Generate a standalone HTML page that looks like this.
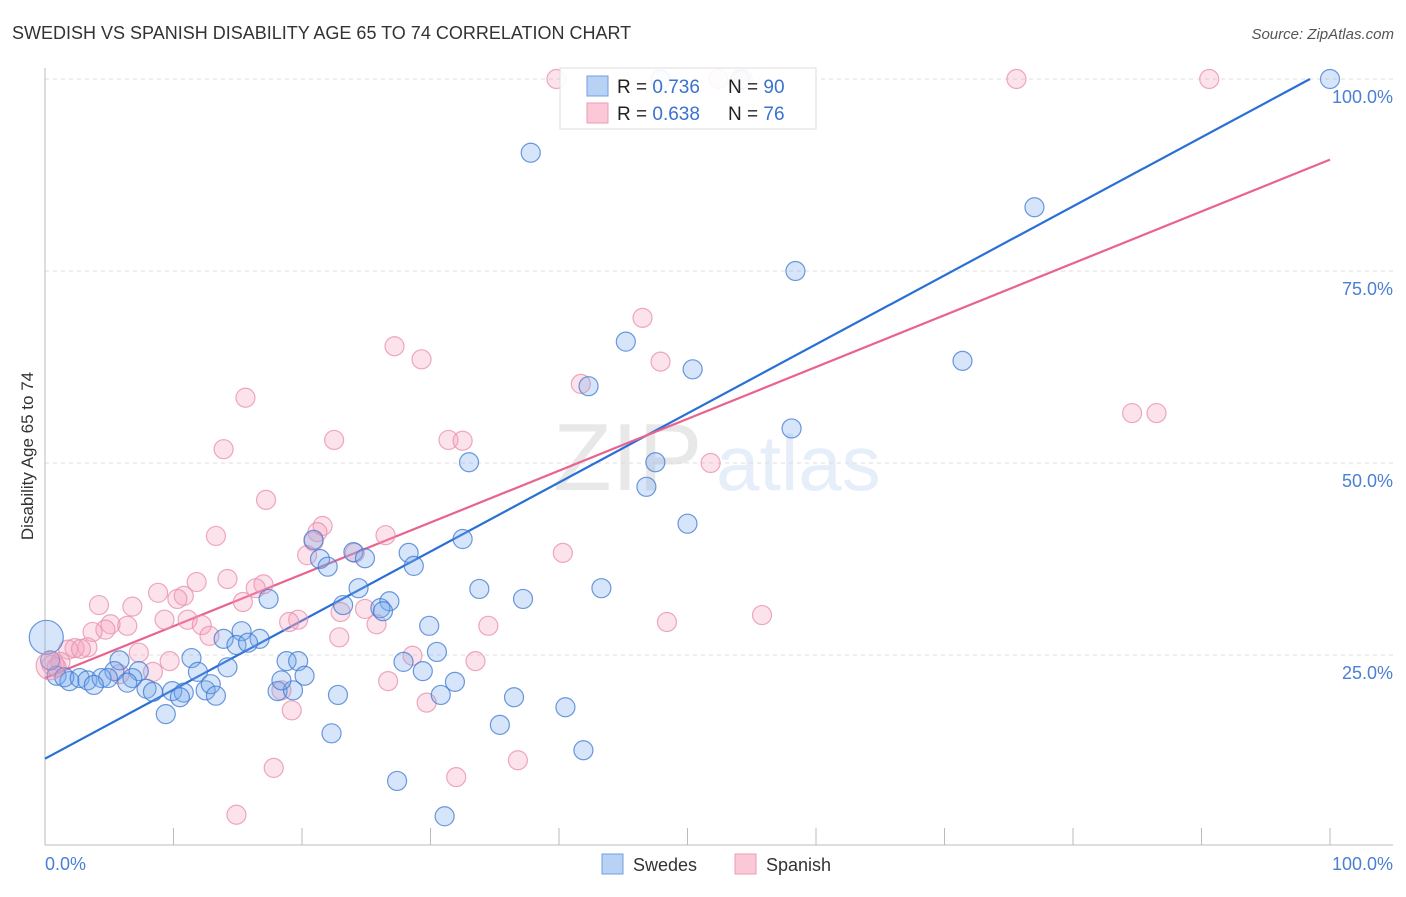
<!DOCTYPE html>
<html><head><meta charset="utf-8"><style>
body{margin:0;background:#fff;font-family:"Liberation Sans",sans-serif}
svg text{font-family:"Liberation Sans",sans-serif}
</style></head><body>
<svg id="chart" width="1406" height="892" xmlns="http://www.w3.org/2000/svg">
<text x="12" y="39" font-size="18" fill="#333">SWEDISH VS SPANISH DISABILITY AGE 65 TO 74 CORRELATION CHART</text>
<text x="1394" y="39" font-size="15" fill="#555" font-style="italic" text-anchor="end">Source: ZipAtlas.com</text>
<g opacity="0.13">
<text x="553" y="490" font-family="Liberation Serif,serif" font-size="96" fill="#555">ZIP</text>
<text x="716" y="490" font-size="78" fill="#4a7fd4">atlas</text>
</g>
<g id="grid"></g>
<g id="axes"></g>
<g id="lines"></g>
<g id="pts"></g>
<text transform="translate(33,456) rotate(-90)" font-size="17" fill="#333" text-anchor="middle">Disability Age 65 to 74</text>
<g>
<rect x="560" y="68" width="256" height="61" fill="#fff" fill-opacity="0.9" stroke="#ddd"/>
<rect x="587" y="76" width="21" height="20" fill="#b8d2f5" stroke="#6f9fe0"/>
<rect x="587" y="103" width="21" height="20" fill="#fbc8d8" stroke="#ee9ab6"/>
<text x="617" y="93" font-size="19" fill="#222">R = <tspan fill="#3a72d0">0.736</tspan></text>
<text x="728" y="93" font-size="19" fill="#222">N = <tspan fill="#3a72d0">90</tspan></text>
<text x="617" y="120" font-size="19" fill="#222">R = <tspan fill="#3a72d0">0.638</tspan></text>
<text x="728" y="120" font-size="19" fill="#222">N = <tspan fill="#3a72d0">76</tspan></text>
</g>
<g>
<rect x="602" y="854" width="21" height="20" fill="#b8d2f5" stroke="#6f9fe0"/>
<text x="633" y="871" font-size="18" fill="#333">Swedes</text>
<rect x="735" y="854" width="21" height="20" fill="#fbc8d8" stroke="#ee9ab6"/>
<text x="766" y="871" font-size="18" fill="#333">Spanish</text>
</g>
</svg>
<script>
const xTicks=[0,10,20,30,40,50,60,70,80,90,100];
const yGrid=[25,50,75,100];
const yTickLabels=["25.0%","50.0%","75.0%","100.0%"];
const xEndLabels=["0.0%","100.0%"];
const swedesX=[100,37.8,77.0,58.4,71.4,45.2,50.4,42.3,58.1,33.0,47.5,46.8,50.0,32.5,20.9,24.0,28.3,21.4,24.9,22.0,28.7,33.8,24.4,43.3,37.2,17.4,26.8,23.2,26.1,26.3,15.3,13.9,16.7,14.9,15.8,29.9,30.5,27.9,18.8,19.7,5.8,11.4,7.3,14.2,11.9,5.4,29.4,20.2,0.9,1.9,1.5,2.7,3.3,4.4,4.9,6.8,6.4,3.8,7.9,8.4,9.9,10.8,10.5,12.5,12.9,13.3,18.1,19.3,18.4,22.8,30.8,31.9,36.5,9.4,40.5,35.4,22.3,41.9,27.4,31.1,0.4,47.9,54.1];
const swedesY=[100,90.4,83.3,75.0,63.3,65.8,62.2,60.0,54.5,50.1,50.1,46.9,42.1,40.1,40.0,38.4,38.3,37.5,37.6,36.5,36.6,33.6,33.7,33.7,32.3,32.3,32.0,31.5,31.1,30.7,28.1,27.1,27.1,26.3,26.6,28.8,25.4,24.1,24.2,24.2,24.3,24.6,22.9,23.4,22.8,22.9,22.9,22.3,22.3,21.6,22.1,22.0,21.7,22.0,22.0,22.0,21.4,21.1,20.6,20.2,20.3,20.1,19.5,20.4,21.2,19.7,20.3,20.4,21.7,19.8,19.8,21.5,19.5,17.3,18.2,15.9,14.8,12.6,8.6,4.0,24.3,99.9,99.9];
const swedesBig=[0.1,27.3];
const spanishX=[39.8,52.4,54.3,75.6,90.6,46.5,27.2,29.3,47.9,41.7,84.6,86.5,15.6,22.5,31.4,32.5,13.9,51.8,17.2,21.6,21.2,20.9,13.3,26.5,20.4,24.1,40.3,14.2,11.8,17.0,16.4,8.8,10.8,10.3,15.4,4.2,6.8,23.0,24.9,25.8,9.3,11.1,19.7,19.0,12.2,5.1,6.4,4.7,3.7,12.8,22.9,34.5,48.4,55.8,3.3,2.3,1.8,2.8,7.3,5.8,8.4,9.7,1.2,0.5,0.9,33.5,28.6,26.7,18.4,19.2,29.7,36.8,32.0,17.8,14.9];
const spanishY=[100,100,100,100,100,68.9,65.2,63.5,63.2,60.3,56.5,56.5,58.5,53.0,53.0,52.9,51.8,50.0,45.2,41.8,41.0,39.8,40.5,40.6,38.0,38.3,38.3,34.9,34.5,34.2,33.7,33.1,32.7,32.3,31.9,31.5,31.3,30.6,31.0,29.0,29.6,29.6,29.6,29.3,28.9,29.0,28.8,28.3,28.0,27.5,27.3,28.8,29.3,30.2,26.0,25.9,25.7,25.8,25.3,22.5,22.8,24.2,24.1,23.7,23.4,24.2,24.9,21.6,20.4,17.8,18.8,11.3,9.1,10.3,4.2];
const spanishBig=[0.4,23.6];
const swedesLine=[11.5,0.899];
const spanishLine=[22.0,0.675];

const NS="http://www.w3.org/2000/svg";
const X=v=>45+v*12.85, Y=v=>847-v*7.68;
function mk(tag,parent,attrs){const e=document.createElementNS(NS,tag);for(const k in attrs)e.setAttribute(k,attrs[k]);parent.appendChild(e);return e;}
const grid=document.getElementById('grid'),axes=document.getElementById('axes'),lines=document.getElementById('lines'),pts=document.getElementById('pts');
yGrid.forEach((v,i)=>{
 const l=mk('line',grid,{x1:45,x2:1393,y1:Y(v),y2:Y(v),stroke:'#ddd','stroke-dasharray':'4,4'});
 
 
 const t=mk('text',axes,{x:1393,y:Y(v)+24,'font-size':18,fill:'#4a7fd4','text-anchor':'end'});t.textContent=yTickLabels[i];
 
 
});
mk('line',axes,{x1:45,x2:45,y1:68,y2:845,stroke:'#bbb'});
mk('line',axes,{x1:45,x2:1393,y1:845,y2:845,stroke:'#bbb'});
xTicks.forEach(v=>{const t=mk('line',axes,{x1:X(v),x2:X(v),y1:828,y2:845,stroke:'#bbb'});
 
 });
const xl0=mk('text',axes,{x:45,y:870,'font-size':18,fill:'#4a7fd4'});xl0.textContent=xEndLabels[0];


const xl1=mk('text',axes,{x:1393,y:870,'font-size':18,fill:'#4a7fd4','text-anchor':'end'});xl1.textContent=xEndLabels[1];


function dot(x,y,r,fill,stroke,name){const c=mk('circle',pts,{cx:X(x),cy:Y(y),r:r,fill:fill,stroke:stroke,'stroke-width':1.2});
 
 }
spanishX.forEach((x,i)=>dot(x,spanishY[i],9.5,'rgba(244,160,188,0.3)','rgba(232,140,170,0.75)','spanish-point'));
swedesX.forEach((x,i)=>dot(x,swedesY[i],9.5,'rgba(120,170,235,0.3)','rgba(60,120,210,0.75)','swedes-point'));
dot(swedesBig[0],swedesBig[1],17,'rgba(120,170,235,0.3)','rgba(60,120,210,0.75)','swedes-point');
dot(spanishBig[0],spanishBig[1],14,'rgba(244,160,188,0.35)','rgba(232,140,170,0.75)','spanish-point');
const bx1=Math.min(100,(100-swedesLine[0])/swedesLine[1]);
const bl=mk('line',lines,{x1:X(0),y1:Y(swedesLine[0]),x2:X(bx1),y2:Y(swedesLine[0]+swedesLine[1]*bx1),stroke:'#2a6fd6','stroke-width':2.2});


const pl=mk('line',lines,{x1:X(0),y1:Y(spanishLine[0]),x2:X(100),y2:Y(spanishLine[0]+spanishLine[1]*100),stroke:'#e8638e','stroke-width':2.2});


</script>
</body></html>
